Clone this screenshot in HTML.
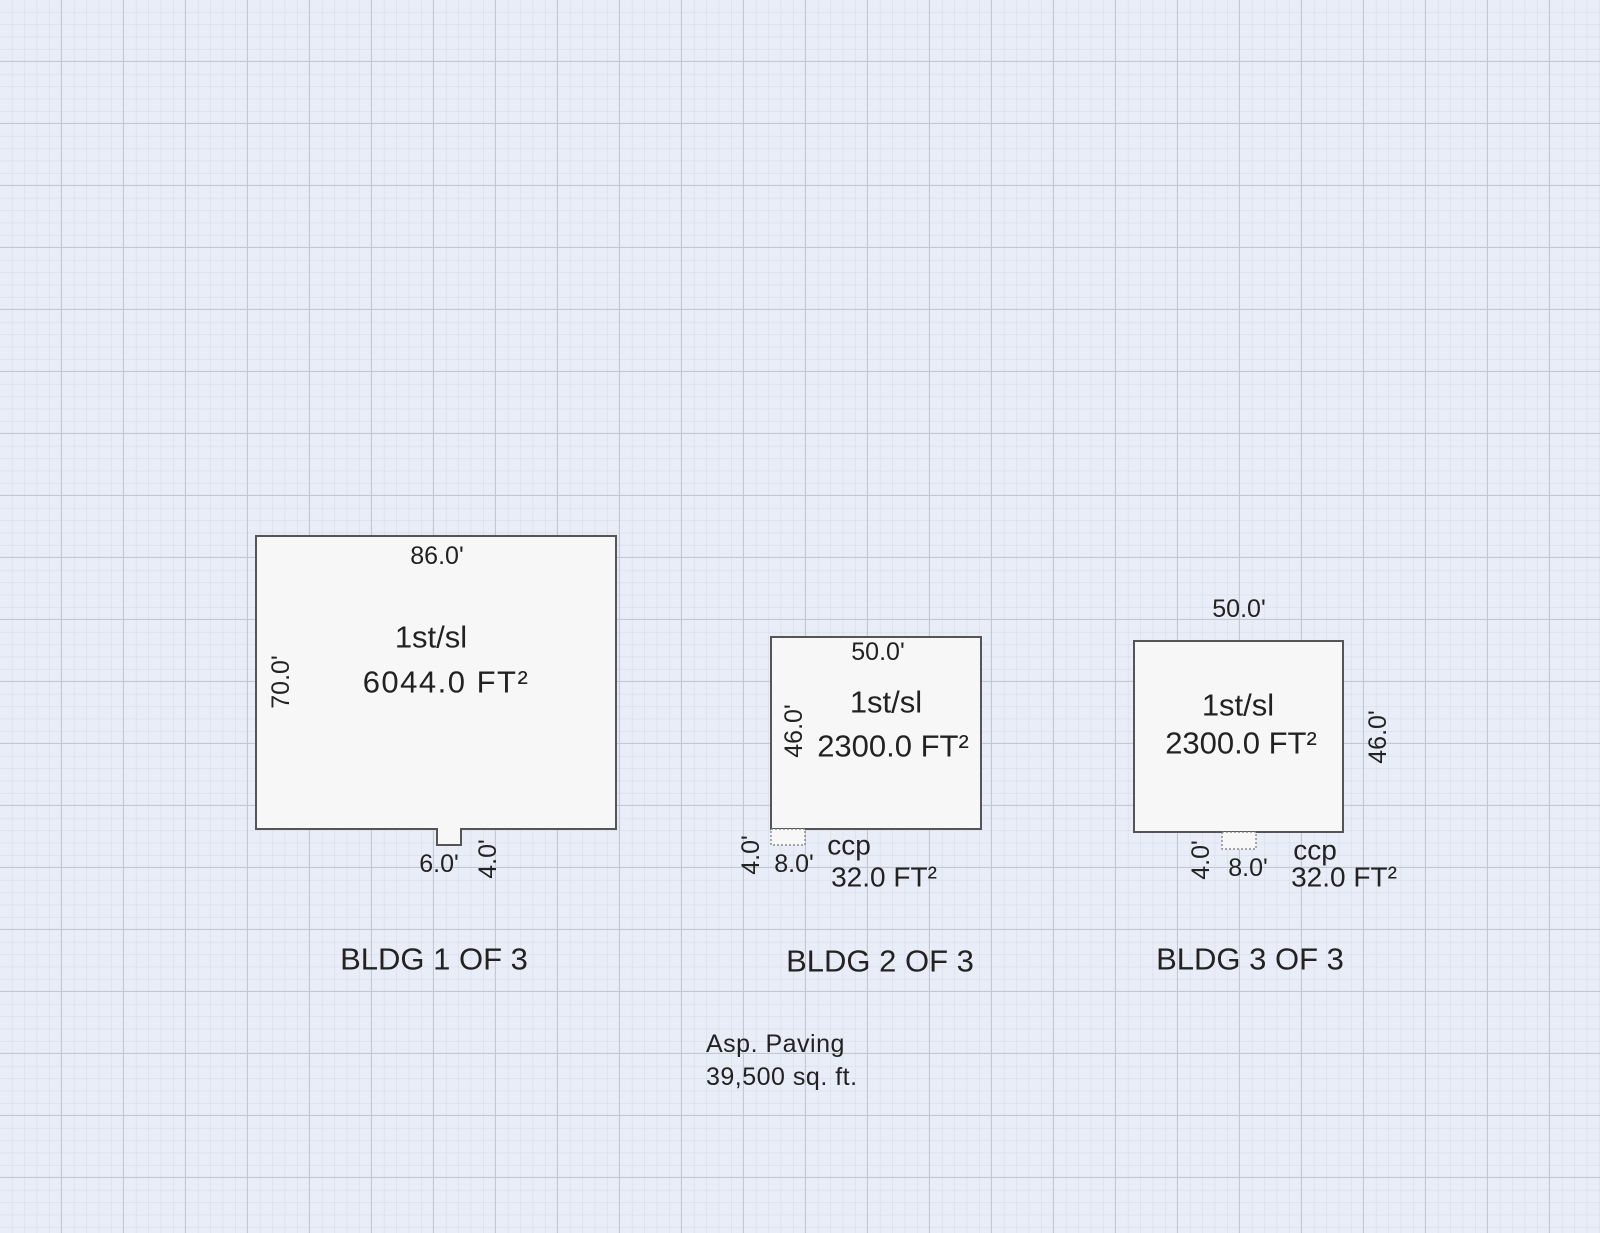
<!DOCTYPE html>
<html><head><style>
html,body{margin:0;padding:0;width:1600px;height:1233px;overflow:hidden;background:#e8ecf6;}
svg{display:block}
text{font-family:"Liberation Sans",Arial,sans-serif;fill:#222;}
</style></head><body>
<svg width="1600" height="1233" viewBox="0 0 1600 1233" xmlns="http://www.w3.org/2000/svg">
<defs>
<pattern id="minor" width="12.4" height="12.4" patternUnits="userSpaceOnUse">
<path d="M12.4 0V12.4M0 12.4H12.4" stroke="#d3d9e6" stroke-width="1" fill="none"/>
</pattern>
<pattern id="major" width="62" height="62" patternUnits="userSpaceOnUse">
<path d="M61.5 0V62M0 61.5H62" stroke="#c2c8d4" stroke-width="1.3" fill="none"/>
</pattern>
</defs>
<rect width="1600" height="1233" fill="#e9edf7"/>
<rect width="1600" height="1233" fill="url(#minor)"/>
<rect width="1600" height="1233" fill="url(#major)"/>

<g fill="#f7f7f7" stroke="#555" stroke-width="2">
<path d="M256 536H616V829H461V845H437V829H256Z"/>
<rect x="771" y="637" width="210" height="192"/>
<rect x="1134" y="641" width="209" height="191"/>
</g>
<g fill="#f7f7f7" stroke="#777" stroke-width="1.2" stroke-dasharray="2 2">
<rect x="771" y="829" width="34" height="16"/>
<rect x="1222" y="832" width="34" height="17"/>
</g>

<g text-anchor="middle" dominant-baseline="central" font-size="25">
<text x="437" y="556">86.0'</text>
<text x="439" y="864">6.0'</text>
<text transform="translate(281,682) rotate(-90)">70.0'</text>
<text transform="translate(488,859) rotate(-90)">4.0'</text>
<text x="878" y="652">50.0'</text>
<text transform="translate(794,731) rotate(-90)">46.0'</text>
<text transform="translate(751,855) rotate(-90)">4.0'</text>
<text x="794" y="864">8.0'</text>
<text x="1239" y="609">50.0'</text>
<text transform="translate(1378,737) rotate(-90)">46.0'</text>
<text transform="translate(1201,860) rotate(-90)">4.0'</text>
<text x="1248" y="868">8.0'</text>
</g>
<g text-anchor="middle" dominant-baseline="central" font-size="28">
<text x="849" y="845">ccp</text>
<text x="884" y="877">32.0 FT²</text>
<text x="1315" y="850">ccp</text>
<text x="1344" y="877">32.0 FT²</text>
</g>
<g text-anchor="middle" dominant-baseline="central" font-size="31">
<text x="431" y="637">1st/sl</text>
<text x="446" y="682" letter-spacing="1.5">6044.0 FT²</text>
<text x="886" y="702">1st/sl</text>
<text x="893" y="746">2300.0 FT²</text>
<text x="1238" y="705">1st/sl</text>
<text x="1241" y="743">2300.0 FT²</text>
<text x="434" y="959">BLDG 1 OF 3</text>
<text x="880" y="961">BLDG 2 OF 3</text>
<text x="1250" y="959">BLDG 3 OF 3</text>
</g>
<g dominant-baseline="central" font-size="25" letter-spacing="0.5">
<text x="706" y="1044">Asp. Paving</text>
<text x="706" y="1077">39,500 sq. ft.</text>
</g>
</svg>
</body></html>
